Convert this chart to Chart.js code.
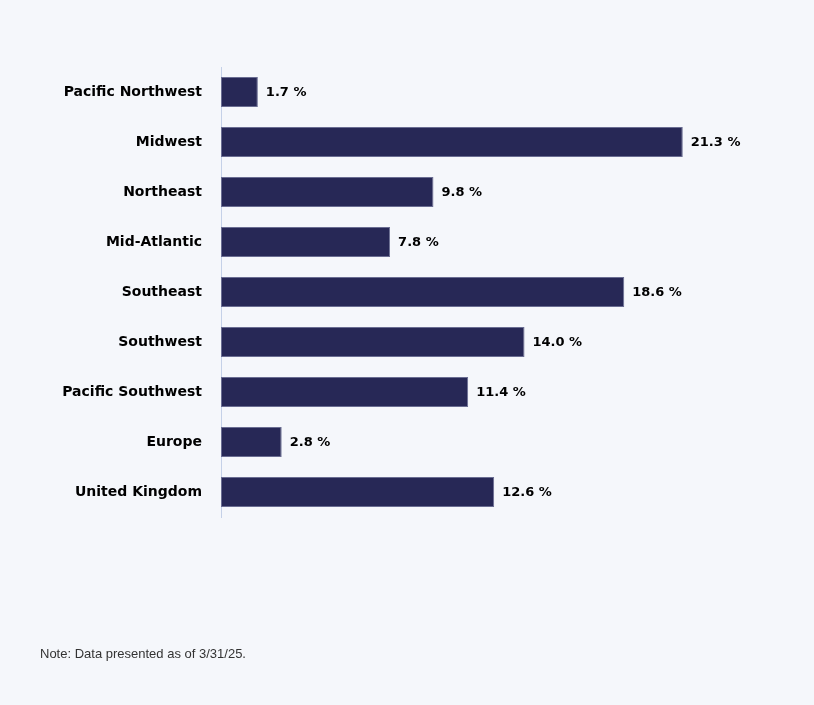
<!DOCTYPE html>
<html>
<head>
<meta charset="utf-8">
<script src="https://cdn.jsdelivr.net/npm/chart.js@4.4.1/dist/chart.umd.min.js"></script>
<style>
    html, body { margin: 0; padding: 0; background: #f5f7fb; }
    .wrap { position: relative; width: 814px; height: 705px; }
    .note {
        position: absolute; left: 40px; top: 646px;
        font-family: 'Liberation Sans', Arial, sans-serif; font-size: 13px; color: #333;
    }
</style>
</head>
<body>
<div class="wrap">
    <canvas id="regionChart" width="814" height="705"></canvas>
    <div class="note">Note: Data presented as of 3/31/25.</div>
</div>
<script>
// Regions and share (%)
const regions = ['Pacific Northwest', 'Midwest', 'Northeast', 'Mid-Atlantic', 'Southeast',
    'Southwest', 'Pacific Southwest', 'Europe', 'United Kingdom'];
const shares = [1.7, 21.3, 9.8, 7.8, 18.6, 14.0, 11.4, 2.8, 12.6];

// Value labels at the end of each bar
const valueLabels = {
    id: 'valueLabels',
    afterDatasetsDraw(chart) {
        const ctx = chart.ctx;
        const meta = chart.getDatasetMeta(0);
        ctx.save();
        ctx.font = 'bold 13px "DejaVu Sans", sans-serif';
        ctx.fillStyle = '#000';
        ctx.textAlign = 'left';
        ctx.textBaseline = 'middle';
        meta.data.forEach((bar, i) => {
            ctx.fillText(shares[i].toFixed(1) + ' %', bar.x + 8, bar.y + 1);
        });
        ctx.restore();
    }
};

new Chart(document.getElementById('regionChart'), {
    type: 'bar',
    data: {
        labels: regions,
        datasets: [{
            data: shares,
            backgroundColor: '#272856',
            borderColor: '#6a6d92',
            borderWidth: 1,
            borderSkipped: false,
            barPercentage: 0.6,
            categoryPercentage: 1.0
        }]
    },
    options: {
        indexAxis: 'y',
        responsive: false,
        animation: false,
        layout: { padding: { top: 67, bottom: 188, left: 0, right: 51 } },
        plugins: {
            legend: { display: false },
            tooltip: { enabled: false }
        },
        scales: {
            x: {
                display: false,
                min: 0,
                max: 25
            },
            y: {
                afterFit(scale) { scale.width = 221; },
                grid: { display: false },
                border: { display: true, color: '#c5d1e8', width: 1 },
                ticks: {
                    color: '#000',
                    padding: 11,
                    font: { family: '"DejaVu Sans", sans-serif', size: 14, weight: 'bold' }
                }
            }
        }
    },
    plugins: [valueLabels]
});
</script>
</body>
</html>
